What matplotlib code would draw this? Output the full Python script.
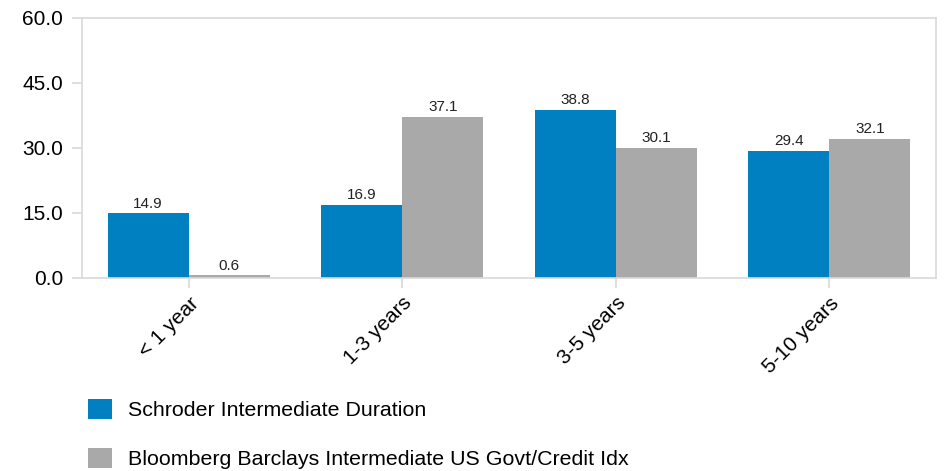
import matplotlib.pyplot as plt
import numpy as np

plt.rcParams['font.family'] = ['Liberation Sans', 'DejaVu Sans']

categories = ['< 1 year', '1-3 years', '3-5 years', '5-10 years']
schroder = [14.9, 16.9, 38.8, 29.4]
bloomberg = [0.6, 37.1, 30.1, 32.1]
series_names = ['Schroder Intermediate Duration',
                'Bloomberg Barclays Intermediate US Govt/Credit Idx']
yticks = [0, 15, 30, 45, 60]

blue = '#0080c0'
grey = '#a9a9a9'
edge = '#d9d9d9'

fig = plt.figure(figsize=(9.49, 4.71), dpi=100)
ax = fig.add_axes([0.0864, 0.4098, 0.8999, 0.552])

x = np.arange(len(categories))
w = 0.38
b1 = ax.bar(x - w / 2, schroder, w, color=blue, label=series_names[0])
b2 = ax.bar(x + w / 2, bloomberg, w, color=grey, label=series_names[1])
ax.bar_label(b1, fmt='%.1f', padding=2, fontsize=11, color='#222222')
ax.bar_label(b2, fmt='%.1f', padding=2, fontsize=11, color='#222222')

ax.set_xlim(-0.5, len(categories) - 0.5)
ax.set_ylim(0, 60)
ax.set_yticks(yticks)
ax.set_yticklabels(['%.1f' % v for v in yticks], fontsize=15)
ax.set_xticks(x)
ax.set_xticklabels(categories, fontsize=15, rotation=45, ha='right',
                   rotation_mode='anchor')

for s in ax.spines.values():
    s.set_color(edge)
    s.set_linewidth(1.2)
ax.tick_params(axis='both', color=edge, length=7.2, width=1.2)
ax.tick_params(axis='y', pad=6.5)
ax.tick_params(axis='x', pad=4)

fig.legend(handles=[b1, b2], labels=series_names, loc='upper left',
           bbox_to_anchor=(0.0927, 0.153), frameon=False, fontsize=15.4,
           handlelength=1.1, handleheight=1.1, labelspacing=1.28,
           handletextpad=0.75, borderpad=0, borderaxespad=0)

plt.savefig('out.png', dpi=100)
